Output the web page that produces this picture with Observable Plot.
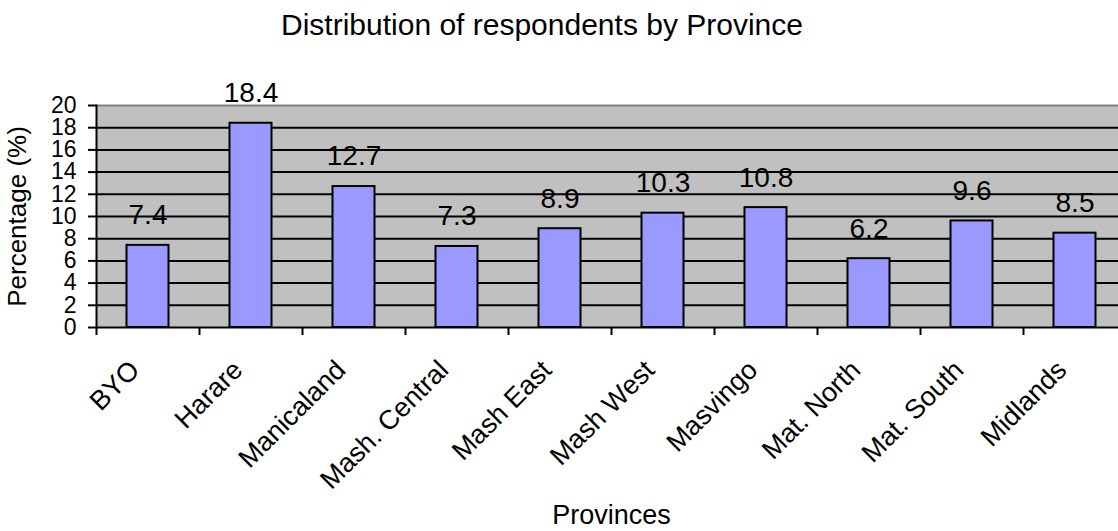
<!DOCTYPE html>
<html>
<head>
<meta charset="utf-8">
<script src="https://cdn.jsdelivr.net/npm/d3@7"></script>
<script src="https://cdn.jsdelivr.net/npm/@observablehq/plot@0.6"></script>
<style>
  html, body { margin: 0; padding: 0; background: #fff; overflow: hidden; }
  #chart { width: 1118px; height: 531px; font-family: "Liberation Sans", Arial, sans-serif; }
  #title {
    width: 1084px; height: 40px; padding-top: 5px; line-height: 40px;
    text-align: center; font-size: 30px; color: #000; white-space: nowrap;
  }
  #chart svg { display: block; overflow: visible; }
</style>
</head>
<body>
<div id="chart">
  <div id="title">Distribution of respondents by Province</div>
</div>
<script>
// Share of survey respondents per province (%)
const provinces = ["BYO", "Harare", "Manicaland", "Mash. Central", "Mash East",
                   "Mash West", "Masvingo", "Mat. North", "Mat. South", "Midlands"];
const percentages = [7.4, 18.4, 12.7, 7.3, 8.9, 10.3, 10.8, 6.2, 9.6, 8.5];
const yTicks = [0, 2, 4, 6, 8, 10, 12, 14, 16, 18, 20];
const gridValues = [2, 4, 6, 8, 10, 12, 14, 16, 18];

const rows = provinces.map((p, i) => ({province: p, pct: percentages[i]}));

const font = "'Liberation Sans', Arial, sans-serif";
const step = (1118 + 8 - 96) / provinces.length;

const chart = Plot.plot({
  width: 1118,
  height: 486,
  marginLeft: 96,
  marginRight: -8,
  marginTop: 60,
  marginBottom: 204,
  style: {fontFamily: font, color: "#000", background: "transparent", overflow: "visible"},
  x: {domain: provinces, padding: 0, axis: null},
  y: {domain: [0, 20], axis: null},
  marks: [
    Plot.frame({fill: "#C0C0C0", stroke: null}),
    Plot.ruleY(gridValues, {stroke: "#000", strokeWidth: 2}),
    Plot.ruleY([20], {stroke: "#808080", strokeWidth: 2}),
    Plot.barY(rows, {
      x: "province", y: "pct",
      fill: "#9999FF", stroke: "#000", strokeWidth: 2,
      insetLeft: 30.5, insetRight: 30.5
    }),
    // axis lines
    Plot.frame({anchor: "left", stroke: "#000", strokeWidth: 2}),
    Plot.ruleY([0], {stroke: "#000", strokeWidth: 2}),
    // y axis ticks and labels
    Plot.axisY({
      ticks: yTicks, tickSize: 8, tickPadding: 12, strokeWidth: 2,
      fontSize: 23, label: null, tickFormat: d => String(d)
    }),
    // x axis ticks at category boundaries
    Plot.axisX({
      ticks: provinces, tickSize: 8, strokeWidth: 2, dx: -step / 2,
      tickFormat: () => "", label: null
    }),
    // rotated category labels
    Plot.text(provinces, {
      x: d => d, frameAnchor: "bottom", lineAnchor: "middle", dy: 38, dx: -13,
      rotate: -45, textAnchor: "end", fontSize: 27, fill: "#000"
    }),
    // value labels above bars
    Plot.text(rows, {
      x: "province", y: "pct", text: d => d.pct.toFixed(1),
      dy: -30, fontSize: 28, fill: "#000"
    }),
    // axis titles
    Plot.text(["Percentage (%)"], {
      frameAnchor: "left", textAnchor: "middle", lineAnchor: "middle",
      dx: -79, rotate: -90, fontSize: 26, fill: "#000"
    }),
    Plot.text(["Provinces"], {
      frameAnchor: "bottom", textAnchor: "middle", lineAnchor: "middle",
      dy: 188, fontSize: 27, fill: "#000"
    })
  ]
});

document.getElementById("chart").appendChild(chart);
</script>
</body>
</html>
